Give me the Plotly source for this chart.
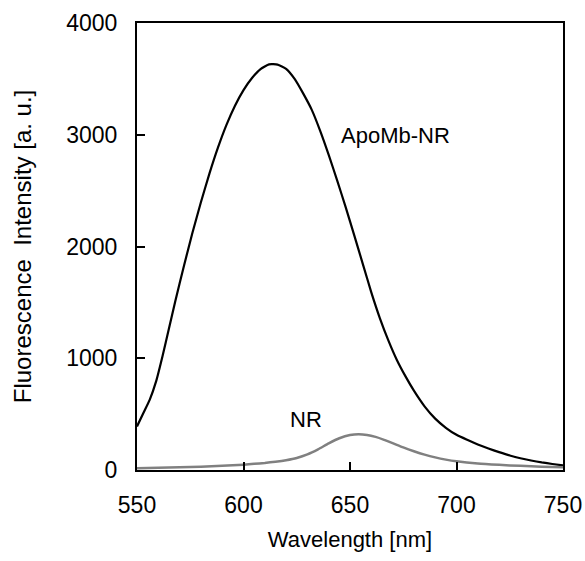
import plotly.graph_objects as go

# ApoMb-NR spectrum
apo_wl = [550, 553, 556, 559, 562, 565, 568, 572, 576, 580, 584, 588, 592, 596, 600,
          604, 608, 612, 616, 620, 624, 628, 632, 636, 640, 644, 648, 652, 656, 660,
          664, 668, 672, 676, 680, 685, 690, 695, 700, 705, 710, 715, 720, 725, 730,
          735, 740, 745, 750]
apo_val = [390, 510, 630, 795, 1020, 1266, 1512, 1824, 2120, 2396, 2652, 2884, 3088, 3260, 3400,
           3508, 3588, 3630, 3628, 3590, 3500, 3370, 3225, 3035, 2820, 2590, 2350, 2100, 1845, 1590,
           1360, 1160, 985, 840, 710, 570, 460, 378, 315, 270, 228, 192, 160, 130, 105,
           85, 68, 54, 42]

# NR spectrum
nr_wl = [550, 560, 570, 580, 590, 600, 605, 610, 615, 620, 625, 630, 635, 640, 645,
         650, 654, 658, 662, 666, 670, 675, 680, 685, 690, 695, 700, 710, 720, 730, 740, 750]
nr_val = [15, 20, 25, 30, 38, 48, 55, 63, 74, 88, 108, 140, 185, 238, 284,
          313, 321, 314, 296, 270, 240, 202, 168, 138, 113, 93, 78, 58, 46, 37, 30, 24]

x_ticks = [550, 600, 650, 700, 750]
y_ticks = [0, 1000, 2000, 3000, 4000]

labels = ["ApoMb-NR", "NR"]
label_pos = [(671.5, 2990), (629.3, 456)]

FONT = "Liberation Sans, Arial, sans-serif"

fig = go.Figure()
fig.add_trace(go.Scatter(x=apo_wl, y=apo_val, mode="lines", name=labels[0],
                         line=dict(color="black", width=2.2, shape="spline", smoothing=0.5)))
fig.add_trace(go.Scatter(x=nr_wl, y=nr_val, mode="lines", name=labels[1],
                         line=dict(color="#808080", width=2.5, shape="spline", smoothing=0.5)))

for txt, (xx, yy) in zip(labels, label_pos):
    fig.add_annotation(x=xx, y=yy, text=txt, showarrow=False,
                       font=dict(family=FONT, size=22, color="black"))

fig.update_layout(
    width=585, height=561,
    margin=dict(l=137, r=22, t=23, b=91),
    paper_bgcolor="white", plot_bgcolor="white",
    showlegend=False,
    font=dict(family=FONT, color="black", size=23),
)
fig.update_xaxes(
    range=[550, 750], tickvals=x_ticks, ticktext=[str(v) for v in x_ticks],
    ticks="inside", ticklen=8, tickwidth=2, tickcolor="black",
    showline=True, linecolor="black", linewidth=2, mirror=True,
    showgrid=False, zeroline=False, automargin=False,
    tickfont=dict(size=23), ticklabelstandoff=13,
    title=dict(text="Wavelength [nm]", font=dict(size=22), standoff=15),
)
fig.update_yaxes(
    range=[0, 4000], tickvals=y_ticks, ticktext=[str(v) for v in y_ticks],
    ticks="inside", ticklen=8, tickwidth=2, tickcolor="black",
    showline=True, linecolor="black", linewidth=2, mirror=True,
    showgrid=False, zeroline=False, automargin=False,
    tickfont=dict(size=23), ticklabelstandoff=13,
    title=dict(text="Fluorescence  Intensity [a. u.]", font=dict(size=24), standoff=28),
)

fig.write_html(
    "out.html",
    config={"displayModeBar": False},
    post_script="document.body.style.margin='0';document.body.style.overflow='hidden';",
)
